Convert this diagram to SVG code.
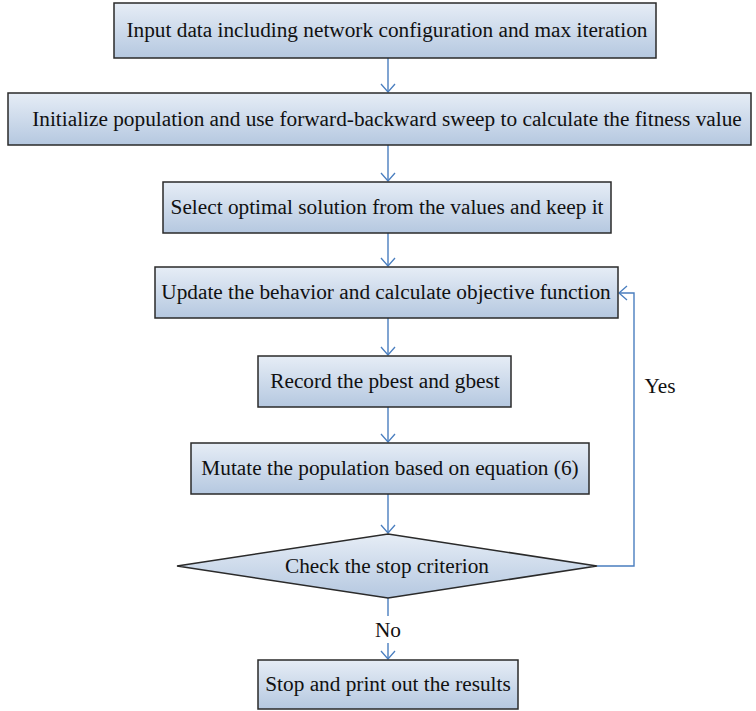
<svg xmlns="http://www.w3.org/2000/svg" width="756" height="711" viewBox="0 0 756 711">
<defs>
<linearGradient id="g" x1="0" y1="0" x2="0" y2="1">
<stop offset="0" stop-color="#e6edf6"/>
<stop offset="1" stop-color="#b5c8e0"/>
</linearGradient>
<marker id="arr" markerUnits="userSpaceOnUse" markerWidth="20" markerHeight="20" refX="10" refY="8" orient="auto" viewBox="0 0 20 16">
<path d="M2,1 L10,8 L2,15" fill="none" stroke="#4a7ebf" stroke-width="1.3"/>
</marker>
<style>
.box{fill:url(#g);stroke:#2a2a2a;stroke-width:1.5}
.t{font-family:"Liberation Serif","Times New Roman",serif;font-size:21.3px;fill:#111;text-anchor:middle}
.c{fill:none;stroke:#4a7ebf;stroke-width:1.4}
</style>
</defs>
<g id="connectors">
<line class="c" x1="388" y1="58" x2="388" y2="92" marker-end="url(#arr)"/>
<line class="c" x1="388" y1="145" x2="388" y2="181" marker-end="url(#arr)"/>
<line class="c" x1="388" y1="233" x2="388" y2="266" marker-end="url(#arr)"/>
<line class="c" x1="388" y1="318" x2="388" y2="355" marker-end="url(#arr)"/>
<line class="c" x1="388" y1="407" x2="388" y2="442" marker-end="url(#arr)"/>
<line class="c" x1="388" y1="494" x2="388" y2="533" marker-end="url(#arr)"/>
<line class="c" x1="388" y1="598" x2="388" y2="616"/>
<line class="c" x1="388" y1="643" x2="388" y2="659" marker-end="url(#arr)"/>
<polyline class="c" points="597,566 634,566 634,293 619,293" marker-end="url(#arr)"/>
<text class="t" x="660" y="393">Yes</text>
<text class="t" x="388" y="637">No</text>
</g>
<g id="n1"><rect class="box" x="114" y="3" width="542" height="55"/><text class="t" x="387" y="37">Input data including network configuration and max iteration</text></g>
<g id="n2"><rect class="box" x="8" y="93" width="743" height="52"/><text class="t" x="387" y="126">Initialize population and use forward-backward sweep to calculate the fitness value</text></g>
<g id="n3"><rect class="box" x="163" y="182" width="448" height="51"/><text class="t" x="387" y="214">Select optimal solution from the values and keep it</text></g>
<g id="n4"><rect class="box" x="155" y="267" width="463" height="51"/><text class="t" x="386" y="299">Update the behavior and calculate objective function</text></g>
<g id="n5"><rect class="box" x="258" y="356" width="253" height="51"/><text class="t" x="385" y="388">Record the pbest and gbest</text></g>
<g id="n6"><rect class="box" x="191" y="443" width="398" height="51"/><text class="t" x="390" y="475">Mutate the population based on equation (6)</text></g>
<g id="n7"><polygon class="box" points="388,534 597,566 388,598 177,566"/><text class="t" x="387" y="573">Check the stop criterion</text></g>
<g id="n8"><rect class="box" x="258" y="660" width="260" height="49"/><text class="t" x="388" y="691">Stop and print out the results</text></g>
</svg>
